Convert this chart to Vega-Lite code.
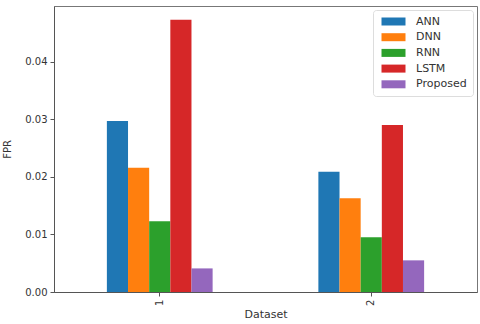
{
  "$schema": "https://vega.github.io/schema/vega-lite/v6.json",
  "autosize": "none",
  "width": 423,
  "height": 286,
  "padding": {"left": 54, "top": 6, "right": 3, "bottom": 32},
  "background": "white",
  "config": {
    "font": "DejaVu Sans",
    "view": {"stroke": "#777", "strokeWidth": 1}
  },
  "data": {
    "values": [
      {"Dataset": "1", "Model": "ANN", "FPR": 0.0297},
      {"Dataset": "1", "Model": "DNN", "FPR": 0.0216},
      {"Dataset": "1", "Model": "RNN", "FPR": 0.0123},
      {"Dataset": "1", "Model": "LSTM", "FPR": 0.0473},
      {"Dataset": "1", "Model": "Proposed", "FPR": 0.0041},
      {"Dataset": "2", "Model": "ANN", "FPR": 0.0209},
      {"Dataset": "2", "Model": "DNN", "FPR": 0.0163},
      {"Dataset": "2", "Model": "RNN", "FPR": 0.0095},
      {"Dataset": "2", "Model": "LSTM", "FPR": 0.0290},
      {"Dataset": "2", "Model": "Proposed", "FPR": 0.0055}
    ]
  },
  "mark": {"type": "bar"},
  "encoding": {
    "x": {
      "field": "Dataset",
      "type": "nominal",
      "scale": {"paddingInner": 0.5, "paddingOuter": 0.25},
      "axis": {
        "title": "Dataset",
        "titleFontSize": 11,
        "titleFontWeight": "normal",
        "titleColor": "#333",
        "titlePadding": 3,
        "labelAngle": -90,
        "labelFontSize": 10,
        "labelColor": "#333",
        "tickColor": "#555",
        "tickSize": 4,
        "domainColor": "#555",
        "labelPadding": 3
      }
    },
    "xOffset": {
      "field": "Model",
      "type": "nominal",
      "sort": ["ANN", "DNN", "RNN", "LSTM", "Proposed"],
      "scale": {"paddingInner": 0, "paddingOuter": 0}
    },
    "y": {
      "field": "FPR",
      "type": "quantitative",
      "scale": {"domain": [0, 0.0497], "nice": false, "zero": true},
      "axis": {
        "title": "FPR",
        "titleFontSize": 10,
        "titleFontWeight": "normal",
        "titleColor": "#333",
        "titlePadding": 12,
        "values": [0, 0.01, 0.02, 0.03, 0.04],
        "format": ".2f",
        "grid": false,
        "labelFontSize": 10,
        "labelColor": "#333",
        "tickColor": "#555",
        "tickSize": 4,
        "domainColor": "#555",
        "labelPadding": 3
      }
    },
    "color": {
      "field": "Model",
      "type": "nominal",
      "sort": ["ANN", "DNN", "RNN", "LSTM", "Proposed"],
      "scale": {
        "domain": ["ANN", "DNN", "RNN", "LSTM", "Proposed"],
        "range": ["#1f77b4", "#ff7f0e", "#2ca02c", "#d62728", "#9467bd"]
      },
      "legend": {
        "title": null,
        "orient": "none",
        "legendX": 319,
        "legendY": 4,
        "fillColor": "white",
        "strokeColor": "#ddd",
        "cornerRadius": 3,
        "padding": 6,
        "labelFontSize": 11,
        "labelColor": "#333",
        "rowPadding": 3.7,
        "symbolType": "M-3,-1L3,-1L3,1L-3,1Z",
        "symbolSize": 64,
        "symbolOffset": 9,
        "symbolStrokeWidth": 0,
        "symbolOpacity": 1,
        "labelOffset": 17
      }
    }
  }
}
